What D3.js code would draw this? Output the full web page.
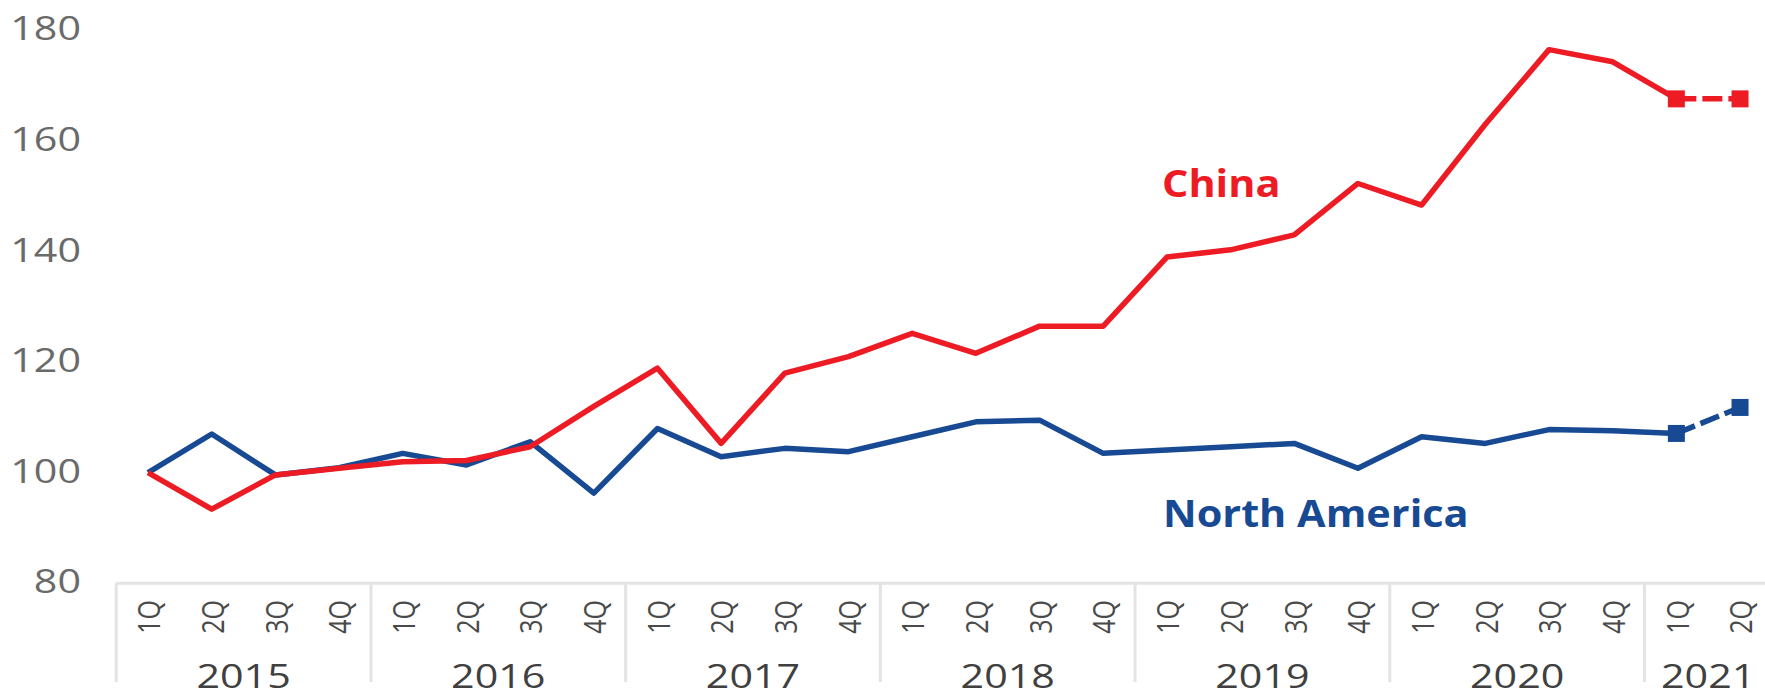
<!DOCTYPE html>
<html>
<head>
<meta charset="utf-8">
<script src="https://cdn.jsdelivr.net/npm/d3@7"></script>
<style>
  html, body { margin: 0; padding: 0; background: #ffffff; overflow: hidden; }
  svg { display: block; }
  text { font-family: "Open Sans", "Noto Sans", sans-serif; }
</style>
</head>
<body>
<svg id="chart" width="1765" height="692"></svg>
<script>
// ---- data ----
const years = ["2015", "2016", "2017", "2018", "2019", "2020", "2021"];
const quartersPerYear = [4, 4, 4, 4, 4, 4, 2];
const quarterNames = ["1Q", "2Q", "3Q", "4Q"];
const yTicks = [80, 100, 120, 140, 160, 180];

const china = [100, 93.4, 99.6, 100.8,
               102.0, 102.2, 104.7, 112.0,
               118.9, 105.3, 118.0, 121.0,
               125.2, 121.6, 126.5, 126.5,
               139.0, 140.3, 143.0, 152.3,
               148.4, 163.0, 176.5, 174.3,
               167.6, 167.6];
const northAmerica = [100, 107.0, 99.6, 100.9,
                      103.5, 101.4, 105.6, 96.3,
                      108.0, 102.9, 104.4, 103.8,
                      106.5, 109.2, 109.5, 103.5,
                      104.1, 104.7, 105.3, 100.8,
                      106.5, 105.3, 107.8, 107.6,
                      107.1, 111.8];
const seriesNames = ["China", "North America"];
const forecastStart = 24; // index where the dashed part begins

// ---- derived category table ----
const categories = [];
years.forEach((yr, yi) => {
  for (let q = 0; q < quartersPerYear[yi]; q++) {
    categories.push({ key: yr + "-" + quarterNames[q], year: yr, q: quarterNames[q] });
  }
});

// ---- layout ----
const W = 1765, H = 692;
const bandW = 63.68;
const left = 116.2;
const STRETCH = 1.25;
const RED = "#ED1C24", BLUE = "#174A93";

const svg = d3.select("#chart");
svg.append("rect").attr("width", W).attr("height", H).attr("fill", "#fff");

const x = d3.scaleBand()
  .domain(categories.map(d => d.key))
  .range([left, left + bandW * categories.length])
  .padding(0);
const xc = k => x(k) + x.bandwidth() / 2;

const y = d3.scaleLinear().domain([80, 180]).range([583.3, 30.3]);

// ---- y tick labels ----
svg.append("g").selectAll("text")
  .data(yTicks).join("text")
  .attr("transform", d => `translate(81,${y(d) + 10}) scale(${STRETCH},1)`)
  .attr("text-anchor", "end")
  .attr("font-size", 33)
  .attr("fill", "#6a6a6a")
  .text(d => d);

// ---- x axis lines ----
const axisY = y(80);
svg.append("line")
  .attr("x1", left).attr("x2", W + 20)
  .attr("y1", axisY).attr("y2", axisY)
  .attr("stroke", "#e3e3e3").attr("stroke-width", 3);

// year dividers
let idx = 0;
const yearGroups = years.map((yr, yi) => {
  const first = categories[idx].key;
  const last = categories[idx + quartersPerYear[yi] - 1].key;
  idx += quartersPerYear[yi];
  return { year: yr, x0: x(first), x1: x(last) + x.bandwidth() };
});
svg.append("g").selectAll("line")
  .data(yearGroups.map(g => g.x0).concat([yearGroups[yearGroups.length - 1].x1]))
  .join("line")
  .attr("x1", d => d).attr("x2", d => d)
  .attr("y1", axisY).attr("y2", 682)
  .attr("stroke", "#e3e3e3").attr("stroke-width", 3);

// quarter labels (rotated)
svg.append("g").selectAll("text")
  .data(categories).join("text")
  .attr("transform", d => `translate(${xc(d.key) + 1},600) scale(${STRETCH},1) rotate(-90)`)
  .attr("text-anchor", "end")
  .attr("dy", "0.36em")
  .attr("font-size", 25)
  .attr("fill", "#4a4a4a")
  .text(d => d.q);

// year labels
svg.append("g").selectAll("text")
  .data(yearGroups).join("text")
  .attr("transform", d => `translate(${(d.x0 + d.x1) / 2},688) scale(${STRETCH},1)`)
  .attr("text-anchor", "middle")
  .attr("font-size", 33)
  .attr("fill", "#404040")
  .text(d => d.year);

// ---- lines ----
const line = d3.line()
  .x(d => xc(categories[d.i].key))
  .y(d => y(d.v));

function drawSeries(values, color) {
  const pts = values.map((v, i) => ({ v, i }));
  const g = svg.append("g");
  g.append("path")
    .attr("d", line(pts.slice(0, forecastStart + 1)))
    .attr("fill", "none").attr("stroke", color)
    .attr("stroke-width", 5.5).attr("stroke-linejoin", "round");
  g.append("path")
    .attr("d", line(pts.slice(forecastStart)))
    .attr("fill", "none").attr("stroke", color)
    .attr("stroke-width", 5.5).attr("stroke-dasharray", "20,6");
  const s = 17;
  g.selectAll("rect")
    .data(pts.slice(forecastStart)).join("rect")
    .attr("x", d => xc(categories[d.i].key) - s / 2)
    .attr("y", d => y(d.v) - s / 2)
    .attr("width", s).attr("height", s)
    .attr("fill", color);
}
drawSeries(northAmerica, BLUE);
drawSeries(china, RED);

// ---- series labels ----
svg.append("text")
  .attr("transform", `translate(1162,197) scale(1.12,1)`)
  .attr("font-size", 37).attr("font-weight", 700)
  .attr("fill", RED)
  .text(seriesNames[0]);
svg.append("text")
  .attr("transform", `translate(1163,527) scale(1.12,1)`)
  .attr("font-size", 37).attr("font-weight", 700)
  .attr("fill", BLUE)
  .text(seriesNames[1]);
</script>
</body>
</html>
